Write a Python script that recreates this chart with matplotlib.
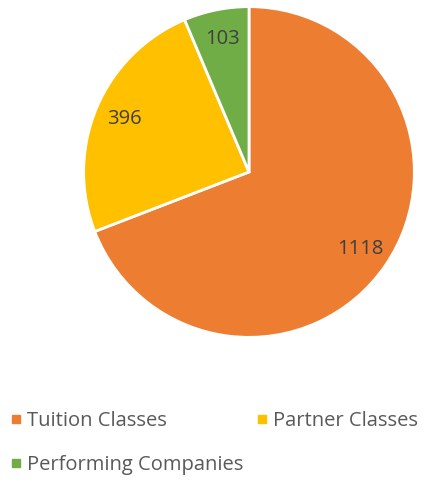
import matplotlib.pyplot as plt
from matplotlib.lines import Line2D

labels = ["Tuition Classes", "Partner Classes", "Performing Companies"]
values = [1118, 396, 103]
colors = ["#ED7D31", "#FFC000", "#70AD47"]

plt.rcParams['font.family'] = ['Open Sans', 'DejaVu Sans']

fig = plt.figure(figsize=(4.26, 4.83), dpi=100)
ax = fig.add_axes([82 / 426, (483 - 340) / 483, 334 / 426, 336 / 483])

total = sum(values)
ax.pie(values, colors=colors, startangle=90, counterclock=False,
       radius=1, pctdistance=0.82,
       autopct=lambda p: "%d" % round(p * total / 100),
       textprops=dict(fontsize=14.5, color="#404040"),
       wedgeprops=dict(edgecolor="white", linewidth=2))
ax.set_xlim(-1.01, 1.01)
ax.set_ylim(-1.01, 1.01)
ax.set_aspect("equal")
ax.axis("off")

# legend entries placed one by one (x, y in pixels from top-left)
legend_pos = [(9, 421), (255, 421), (9, 465)]
for lab, c, (px, py) in zip(labels, colors, legend_pos):
    h = Line2D([], [], marker="s", linestyle="none", markersize=6,
               markerfacecolor=c, markeredgecolor=c)
    fig.legend([h], [lab], loc="center left",
               bbox_to_anchor=(px / 426, 1 - py / 483),
               frameon=False, fontsize=14.5, labelcolor="#595959",
               handletextpad=0.2, handlelength=0.7,
               borderpad=0, borderaxespad=0)

fig.savefig("out.png", dpi=100)
